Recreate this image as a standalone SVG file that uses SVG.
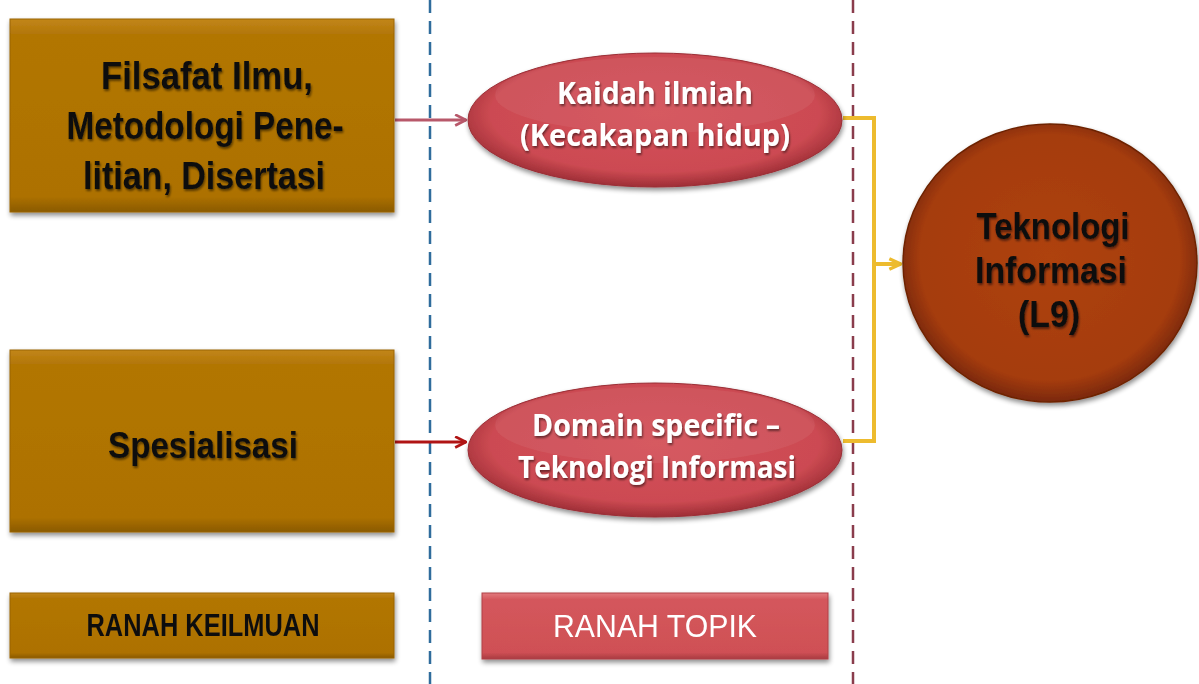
<svg xmlns="http://www.w3.org/2000/svg" width="1199" height="684" viewBox="0 0 1199 684">
  <style>
    .narrow { font-family: "Liberation Sans", Arial, sans-serif; font-weight: bold; text-anchor: middle; fill: #111; }
    .light { fill: #fff; font-family: "Open Sans", "Noto Sans", sans-serif; font-weight: bold; text-anchor: middle; }
    .divider { fill: none; stroke-width: 2.5; stroke-dasharray: 13 8; }
  </style>
  <defs>
    <linearGradient id="gold" x1="0" y1="0" x2="0" y2="1">
      <stop offset="0" stop-color="#C2861A"/>
      <stop offset="0.08" stop-color="#B27606"/>
      <stop offset="0.92" stop-color="#AD7105"/>
      <stop offset="1" stop-color="#8A5A04"/>
    </linearGradient>
    <linearGradient id="rose" x1="0" y1="0" x2="0" y2="1">
      <stop offset="0" stop-color="#E27A7E"/>
      <stop offset="0.1" stop-color="#D4575C"/>
      <stop offset="0.9" stop-color="#CF5055"/>
      <stop offset="1" stop-color="#A83A40"/>
    </linearGradient>
    <radialGradient id="oval" cx="0.5" cy="0.45" r="0.55">
      <stop offset="0" stop-color="#D45058"/>
      <stop offset="0.8" stop-color="#CC4A52"/>
      <stop offset="1" stop-color="#9E2E36"/>
    </radialGradient>
    <radialGradient id="rust" cx="0.5" cy="0.48" r="0.52">
      <stop offset="0" stop-color="#AE420E"/>
      <stop offset="0.85" stop-color="#A53C0C"/>
      <stop offset="1" stop-color="#7A2808"/>
    </radialGradient>
    <filter id="shadow" x="-10%" y="-10%" width="125%" height="130%">
      <feGaussianBlur in="SourceAlpha" stdDeviation="2.5"/>
      <feOffset dx="1" dy="3" result="b"/>
      <feComponentTransfer><feFuncA type="linear" slope="0.45"/></feComponentTransfer>
      <feMerge><feMergeNode/><feMergeNode in="SourceGraphic"/></feMerge>
    </filter>
    <filter id="textshadow" x="-5%" y="-20%" width="110%" height="150%">
      <feGaussianBlur in="SourceAlpha" stdDeviation="1"/>
      <feOffset dx="1" dy="1.5"/>
      <feComponentTransfer><feFuncA type="linear" slope="0.5"/></feComponentTransfer>
      <feMerge><feMergeNode/><feMergeNode in="SourceGraphic"/></feMerge>
    </filter>
    <marker id="redArrow" viewBox="0 0 12 12" refX="11" refY="6" markerWidth="13" markerHeight="13" markerUnits="userSpaceOnUse" orient="auto">
      <path d="M1,1 L11,6 L1,11" fill="none" stroke="#B01414" stroke-width="2.5"/>
    </marker>
    <marker id="pinkArrow" viewBox="0 0 12 12" refX="11" refY="6" markerWidth="13" markerHeight="13" markerUnits="userSpaceOnUse" orient="auto">
      <path d="M1,1 L11,6 L1,11" fill="none" stroke="#B8586A" stroke-width="2.5"/>
    </marker>
    <marker id="goldArrow" viewBox="0 0 12 12" refX="11" refY="6" markerWidth="14" markerHeight="14" markerUnits="userSpaceOnUse" orient="auto">
      <path d="M1,1.5 L11,6 L1,10.5" fill="none" stroke="#EDBB2E" stroke-width="2.8"/>
    </marker>
  </defs>

  <rect width="1199" height="684" fill="#fff"/>

  <!-- column dividers -->
  <g id="dividers">
    <line class="divider" x1="430" y1="0" x2="430" y2="684" stroke="#2F6C9C"/>
    <line class="divider" x1="853" y1="0" x2="853" y2="684" stroke="#8A3C4C"/>
  </g>

  <!-- connectors -->
  <g id="connectors" fill="none">
    <line x1="395" y1="120" x2="466" y2="120" stroke="#B8586A" stroke-width="3" marker-end="url(#pinkArrow)"/>
    <line x1="395" y1="442" x2="466" y2="442" stroke="#B01414" stroke-width="3" marker-end="url(#redArrow)"/>
    <polyline points="843,118 874,118 874,441 843,441" stroke="#EDBB2E" stroke-width="4"/>
    <line x1="874" y1="264" x2="901" y2="264" stroke="#EDBB2E" stroke-width="4" marker-end="url(#goldArrow)"/>
  </g>

  <g id="filsafat" filter="url(#shadow)">
    <rect x="10" y="19" width="384" height="193" fill="url(#gold)" stroke="#9A6406" stroke-width="1"/>
    <g filter="url(#textshadow)">
      <text class="narrow" font-size="38" x="207" y="89" textLength="212" lengthAdjust="spacingAndGlyphs">Filsafat Ilmu,</text>
      <text class="narrow" font-size="38" x="205" y="139" textLength="277" lengthAdjust="spacingAndGlyphs">Metodologi Pene-</text>
      <text class="narrow" font-size="38" x="204" y="189" textLength="242" lengthAdjust="spacingAndGlyphs">litian, Disertasi</text>
    </g>
  </g>

  <g id="spesialisasi" filter="url(#shadow)">
    <rect x="10" y="350" width="384" height="182" fill="url(#gold)" stroke="#9A6406" stroke-width="1"/>
    <text class="narrow" font-size="36" x="203" y="458" textLength="190" lengthAdjust="spacingAndGlyphs" filter="url(#textshadow)">Spesialisasi</text>
  </g>

  <g id="ranah-keilmuan" filter="url(#shadow)">
    <rect x="10" y="593" width="384" height="65" fill="url(#gold)" stroke="#9A6406" stroke-width="1"/>
    <text class="narrow" font-size="32" x="203" y="636" textLength="233" lengthAdjust="spacingAndGlyphs">RANAH KEILMUAN</text>
  </g>

  <g id="kaidah" filter="url(#shadow)">
    <ellipse cx="655" cy="120" rx="187" ry="67" fill="url(#oval)" stroke="#9A2E36" stroke-width="1"/>
    <ellipse cx="655" cy="95" rx="160" ry="38" fill="#fff" opacity="0.06"/>
    <g filter="url(#textshadow)">
      <text class="light" font-size="31" x="655" y="104" textLength="196" lengthAdjust="spacingAndGlyphs">Kaidah ilmiah</text>
      <text class="light" font-size="31" x="655" y="146" textLength="270" lengthAdjust="spacingAndGlyphs">(Kecakapan hidup)</text>
    </g>
  </g>

  <g id="domain" filter="url(#shadow)">
    <ellipse cx="655" cy="450" rx="187" ry="67" fill="url(#oval)" stroke="#9A2E36" stroke-width="1"/>
    <ellipse cx="655" cy="425" rx="160" ry="38" fill="#fff" opacity="0.06"/>
    <g filter="url(#textshadow)">
      <text class="light" font-size="31" x="656" y="436" textLength="248" lengthAdjust="spacingAndGlyphs">Domain specific –</text>
      <text class="light" font-size="31" x="657" y="478" textLength="278" lengthAdjust="spacingAndGlyphs">Teknologi Informasi</text>
    </g>
  </g>

  <g id="ranah-topik" filter="url(#shadow)">
    <rect x="482" y="593" width="346" height="66" fill="url(#rose)" stroke="#B04048" stroke-width="1"/>
    <text x="655" y="637" font-family="'Liberation Sans', Arial, sans-serif" font-size="32" fill="#fff" text-anchor="middle" textLength="204" lengthAdjust="spacingAndGlyphs">RANAH TOPIK</text>
  </g>

  <g id="teknologi" filter="url(#shadow)">
    <ellipse cx="1050" cy="263" rx="147" ry="139" fill="url(#rust)" stroke="#6E2406" stroke-width="1.5"/>
    <g filter="url(#textshadow)">
      <text class="narrow" font-size="36" x="1053" y="239" textLength="153" lengthAdjust="spacingAndGlyphs">Teknologi</text>
      <text class="narrow" font-size="36" x="1051" y="283" textLength="152" lengthAdjust="spacingAndGlyphs">Informasi</text>
      <text class="narrow" font-size="36" x="1049" y="327" textLength="62" lengthAdjust="spacingAndGlyphs">(L9)</text>
    </g>
  </g>
</svg>
